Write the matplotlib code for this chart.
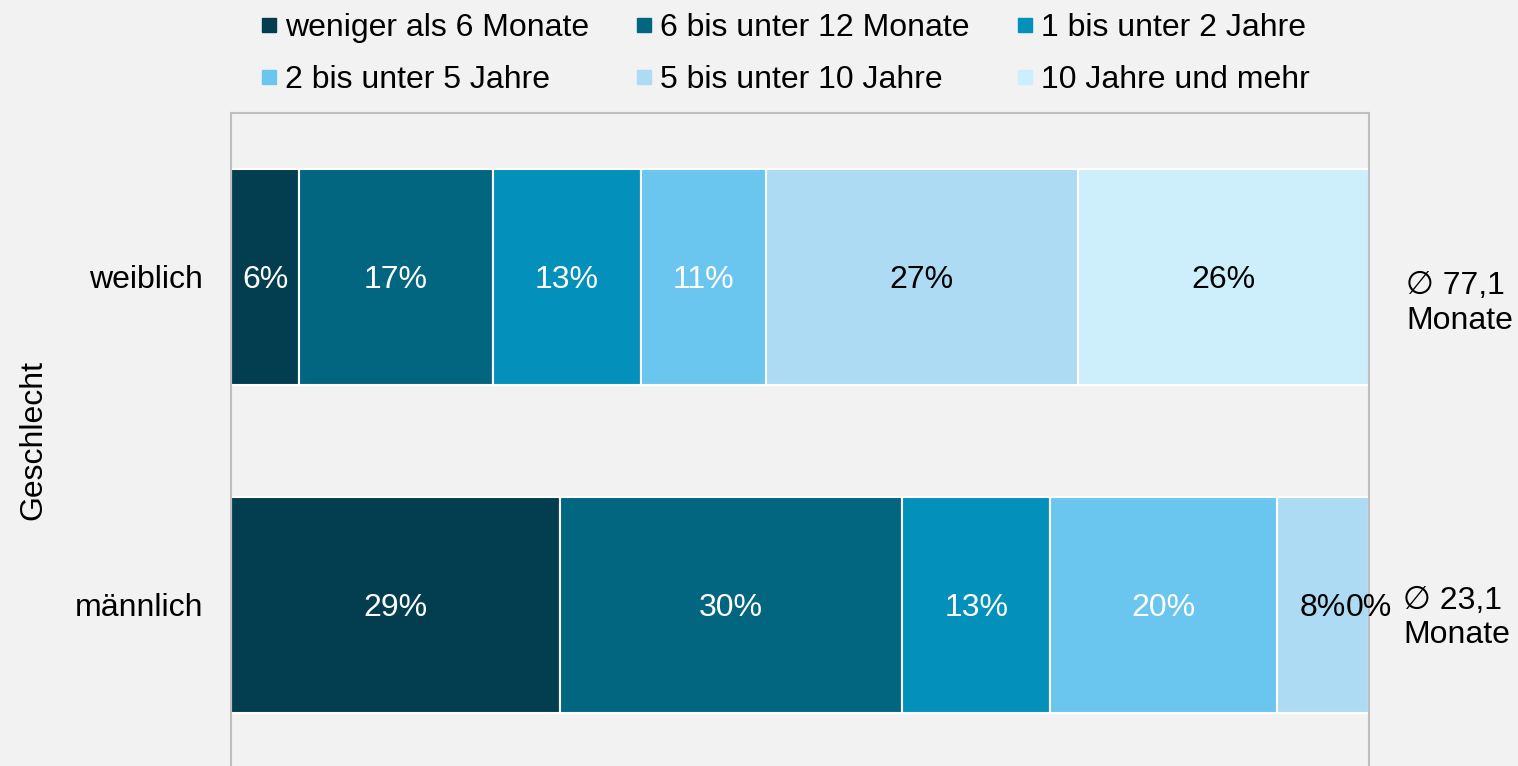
import matplotlib.pyplot as plt
from matplotlib.lines import Line2D

plt.rcParams['font.family'] = ['Liberation Sans', 'DejaVu Sans']

# data
groups = ['weiblich', 'männlich']
series = ['weniger als 6 Monate', '6 bis unter 12 Monate', '1 bis unter 2 Jahre',
          '2 bis unter 5 Jahre', '5 bis unter 10 Jahre', '10 Jahre und mehr']
weiblich = [6.0, 17.0, 13.0, 11.0, 27.4, 25.6]
maennlich = [28.9, 30.1, 13.0, 19.9, 8.1, 0.0]
avg_months = ['77,1', '23,1']

colors = ['#033D50', '#026680', '#0391BC', '#6AC6EF', '#ADDBF4', '#CCEFFB']
txt_colors = ['white', 'white', 'white', 'white', 'black', 'black']
bg = '#F2F2F2'
fs = 23

fig = plt.figure(figsize=(15.18, 7.66), dpi=100, facecolor=bg)
ax = fig.add_axes([231/1518, -3/766, 1138/1518, (766 - 113 + 3)/766])
ax.set_facecolor(bg)

data = [weiblich, maennlich]
for gi, vals in enumerate(data):
    left = 0
    for si, v in enumerate(vals):
        ax.barh(gi, v, left=left, height=0.66, color=colors[si],
                edgecolor='white', linewidth=1.5)
        ax.text(left + v / 2, gi + 0.01, f'{v:.0f}%', ha='center', va='center',
                color=txt_colors[si], fontsize=fs)
        left += v

offsets = [0.08, 0.04]
xpos = [103.25, 103.0]
for gi, a in enumerate(avg_months):
    ax.text(xpos[gi], gi + offsets[gi], f'\u2205 {a}\nMonate', ha='left', va='center',
            fontsize=fs, clip_on=False, linespacing=1.2)

ax.set_xlim(0, 100)
ax.set_ylim(1.5, -0.5)
ax.set_yticks(range(len(groups)))
ax.set_yticklabels(groups, fontsize=fs)
ax.tick_params(axis='y', length=0, pad=20)
ax.set_xticks([])
for s in ['left', 'right', 'top']:
    ax.spines[s].set_color('#BFBFBF')
    ax.spines[s].set_linewidth(1.5)
ax.spines['bottom'].set_visible(False)

fig.text(33/1518, 1 - 440/766, 'Geschlecht', rotation=90, ha='center', va='center', fontsize=fs)

handles = [Line2D([], [], marker='s', linestyle='none', markersize=10, color=c) for c in colors]
order = [0, 3, 1, 4, 2, 5]
fig.legend([handles[i] for i in order], [series[i] for i in order], ncol=3,
           loc='upper left', bbox_to_anchor=(247/1518, 1.0), frameon=False,
           fontsize=fs, handlelength=0.6, handletextpad=0.2, columnspacing=1.42,
           labelspacing=0.7, borderaxespad=0.0)

fig.savefig('out.png', facecolor=bg)
